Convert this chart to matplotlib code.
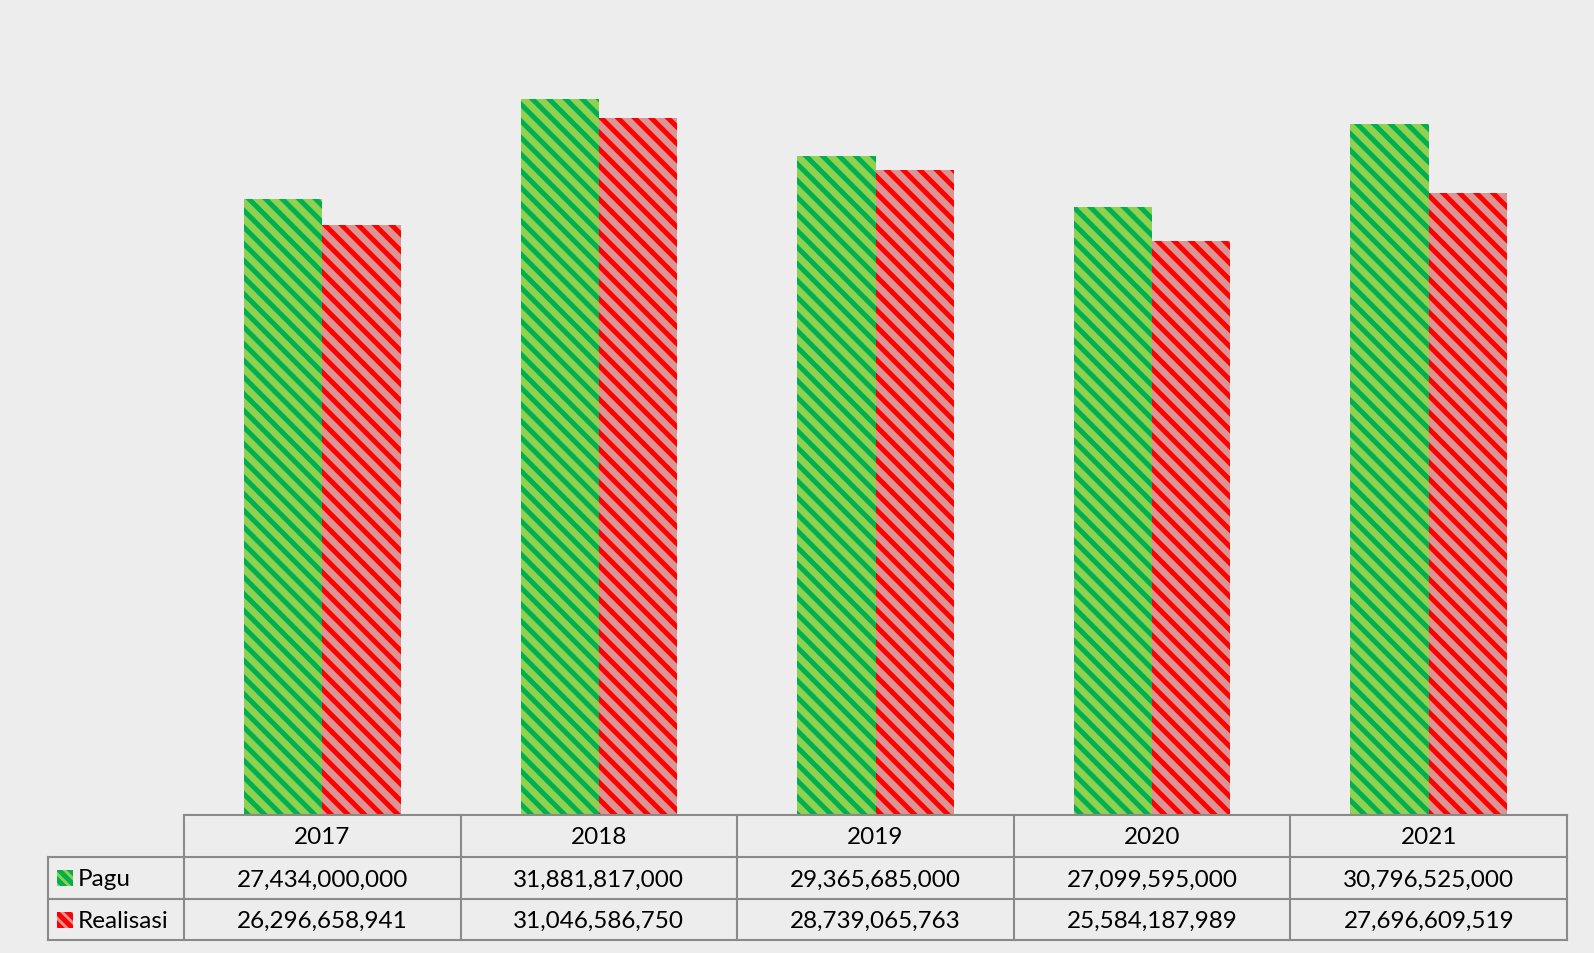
import numpy as np
import matplotlib.pyplot as plt
from matplotlib.patches import Rectangle

years = ["2017", "2018", "2019", "2020", "2021"]
pagu = [27434000000, 31881817000, 29365685000, 27099595000, 30796525000]
realisasi = [26296658941, 31046586750, 28739065763, 25584187989, 27696609519]
series_names = ["Pagu", "Realisasi"]

W, H = 1594, 954
bg = "#EDEDED"
green_base, green_stripe = "#92D050", "#00B050"
red_base, red_stripe = "#DA9694", "#FF0000"

plt.rcParams['font.family'] = ['Lato', 'DejaVu Sans']
plt.rcParams['hatch.linewidth'] = 3.6

fig = plt.figure(figsize=(W / 100, H / 100), dpi=100, facecolor=bg)

# plot area in pixels
x0, x1 = 184, 1567
y_top, y_bot = 30.5, 816
ax = fig.add_axes([x0 / W, 1 - y_bot / H, (x1 - x0) / W, (y_bot - y_top) / H])
ax.set_facecolor("none")

x = np.arange(len(years))
bw = 0.283
ax.bar(x - bw / 2, pagu, bw, color=green_base, edgecolor=green_stripe,
       hatch="\\\\", linewidth=0)
ax.bar(x + bw / 2, realisasi, bw, color=red_base, edgecolor=red_stripe,
       hatch="\\\\", linewidth=0)
ax.set_xlim(-0.5, len(years) - 0.5)
ax.set_ylim(0, 35e9)
ax.axis("off")

# data table under the plot
lab_left = 48
row_y = [816, 858, 900, 941]
line_c = "#8A8A8A"
lw = 1.5
col_w = (x1 - x0) / len(years)


def fx(px):
    return px / W


def fy(py):
    return 1 - py / H


# horizontal lines
fig.add_artist(plt.Line2D([fx(x0), fx(x1)], [fy(row_y[0])] * 2, color=line_c, lw=lw))
for ry in row_y[1:]:
    fig.add_artist(plt.Line2D([fx(lab_left), fx(x1)], [fy(ry)] * 2, color=line_c, lw=lw))
# vertical lines
fig.add_artist(plt.Line2D([fx(lab_left)] * 2, [fy(row_y[1]), fy(row_y[3])], color=line_c, lw=lw))
for i in range(len(years) + 1):
    vx = x0 + i * col_w
    fig.add_artist(plt.Line2D([fx(vx)] * 2, [fy(row_y[0]), fy(row_y[3])], color=line_c, lw=lw))

fs = 17.5
for i, yr in enumerate(years):
    cx = x0 + (i + 0.5) * col_w
    fig.text(fx(cx), fy((row_y[0] + row_y[1]) / 2 + 1), yr, ha="center", va="center", fontsize=fs)
    fig.text(fx(cx), fy((row_y[1] + row_y[2]) / 2 + 1), f"{pagu[i]:,}", ha="center", va="center", fontsize=fs)
    fig.text(fx(cx), fy((row_y[2] + row_y[3]) / 2 + 1), f"{realisasi[i]:,}", ha="center", va="center", fontsize=fs)

# row labels with legend keys
keys = [(green_base, green_stripe), (red_base, red_stripe)]
for j, name in enumerate(series_names):
    cy = (row_y[j + 1] + row_y[j + 2]) / 2
    sw = 16
    fig.add_artist(Rectangle((fx(57), fy(cy + sw / 2)), sw / W, sw / H,
                             facecolor=keys[j][0], edgecolor=keys[j][1],
                             hatch="\\\\\\", linewidth=0, transform=fig.transFigure))
    fig.text(fx(78), fy(cy + 1), name, ha="left", va="center", fontsize=fs)

fig.savefig("out.png", dpi=100, facecolor=bg)
